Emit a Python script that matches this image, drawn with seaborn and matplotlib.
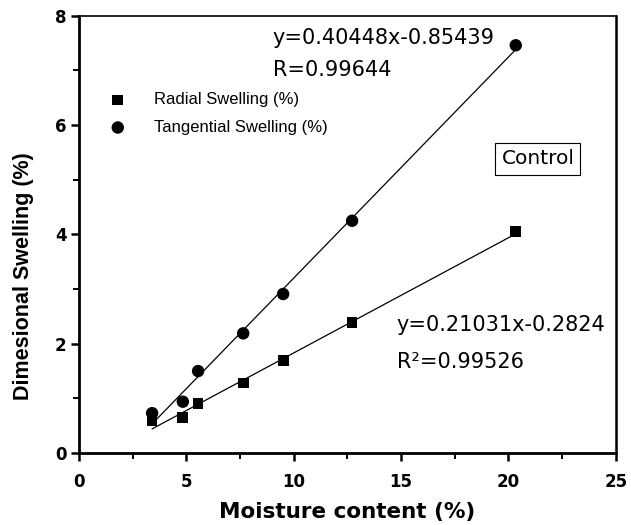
import numpy as np
import pandas as pd
import matplotlib
matplotlib.use('Agg')
import matplotlib.pyplot as plt
import seaborn as sns

# datos
moisture = [3.41, 4.84, 5.55, 7.65, 9.51, 12.72, 20.34]
radial = [0.59, 0.65, 0.90, 1.28, 1.70, 2.39, 4.05]
tangential = [0.73, 0.94, 1.50, 2.19, 2.91, 4.25, 7.46]

eq_tang = 'y=0.40448x-0.85439'
r_tang = 'R=0.99644'
eq_rad = 'y=0.21031x-0.2824'
r_rad = 'R\u00b2=0.99526'

df = pd.DataFrame({'mc': moisture, 'radial': radial, 'tangential': tangential})

sns.set_style('ticks')
plt.rcParams['font.family'] = ['Liberation Sans', 'DejaVu Sans']
plt.rcParams['text.color'] = 'black'
plt.rcParams['axes.labelcolor'] = 'black'

fig, ax = plt.subplots(figsize=(6.31, 5.25), dpi=100)
fig.subplots_adjust(left=0.125, right=0.976, bottom=0.137, top=0.970)

# lineas de ajuste
sns.regplot(x='mc', y='tangential', data=df, scatter=False, ci=None, ax=ax,
            line_kws={'color': 'black', 'lw': 0.9})
sns.regplot(x='mc', y='radial', data=df, scatter=False, ci=None, ax=ax,
            line_kws={'color': 'black', 'lw': 0.9})

sns.scatterplot(x='mc', y='radial', data=df, marker='s', color='black', s=60,
                edgecolor='none', label='Radial Swelling (%)', ax=ax, zorder=3)
sns.scatterplot(x='mc', y='tangential', data=df, marker='o', color='black', s=80,
                edgecolor='none', label='Tangential Swelling (%)', ax=ax, zorder=3)

ax.set_xlim(0, 25)
ax.set_ylim(0, 8)
ax.set_xticks([0, 5, 10, 15, 20, 25])
ax.set_yticks([0, 2, 4, 6, 8])
ax.set_xticks(np.arange(2.5, 25, 5), minor=True)
ax.set_yticks(np.arange(1, 8, 2), minor=True)

ax.spines['left'].set_linewidth(2)
ax.spines['bottom'].set_linewidth(2)
ax.spines['right'].set_linewidth(1.8)
ax.spines['top'].set_linewidth(1.2)
for sp in ax.spines.values():
    sp.set_color('black')

ax.tick_params(which='major', direction='out', length=6, width=1.8, colors='black',
               labelsize=12)
ax.tick_params(which='minor', direction='out', length=4, width=1.4, colors='black')
ax.tick_params(axis='x', which='major', pad=8)
ax.tick_params(axis='y', which='major', pad=3)
for lab in ax.get_xticklabels() + ax.get_yticklabels():
    lab.set_fontfamily('DejaVu Sans')
    lab.set_fontweight('bold')

ax.set_xlabel('Moisture content (%)', family='DejaVu Sans', fontweight='bold',
              fontsize=15.5, labelpad=8)
ax.set_ylabel('Dimesional Swelling (%)', fontweight='bold', fontsize=15.5)
ax.yaxis.set_label_coords(-0.083, 0.405)

ax.legend(loc='upper left', bbox_to_anchor=(0.029, 0.84), frameon=False,
          fontsize=12, handletextpad=1.2, labelspacing=0.75, borderaxespad=0)

txt_kw = dict(fontsize=15, va='center', family='DejaVu Sans')
ax.text(9.03, 7.6, eq_tang, **txt_kw)
ax.text(9.03, 7.01, r_tang, **txt_kw)
ax.text(14.8, 2.34, eq_rad, **txt_kw)
ax.text(14.8, 1.67, r_rad, **txt_kw)
ax.text(21.37, 5.38, 'Control', fontsize=14.5, family='DejaVu Sans', ha='center',
        va='center', bbox=dict(boxstyle='square,pad=0.3', fc='white', ec='black', lw=0.8))

fig.savefig('out.png', dpi=100)
